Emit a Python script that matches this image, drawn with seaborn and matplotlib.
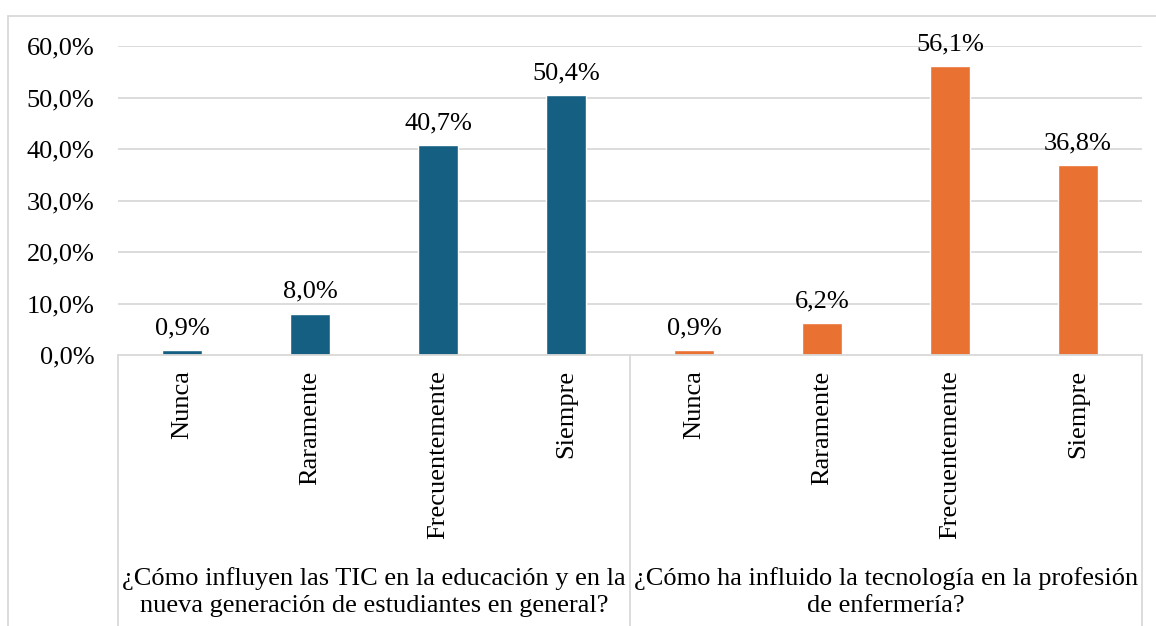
import matplotlib
matplotlib.use("Agg")
import matplotlib.pyplot as plt
import seaborn as sns
import pandas as pd
from matplotlib.lines import Line2D

categories = ["Nunca", "Raramente", "Frecuentemente", "Siempre"]
group_labels = ["¿Cómo influyen las TIC en la educación y en la\nnueva generación de estudiantes en general?",
                "¿Cómo ha influido la tecnología en la profesión\nde enfermería?"]
values_tic = [0.9, 8.0, 40.7, 50.4]
values_enf = [0.9, 6.2, 56.1, 36.8]
yticks = [0, 10, 20, 30, 40, 50, 60]
colors = ["#156082", "#E97132"]

sns.set_theme(style="white")
plt.rcParams["font.family"] = ["Liberation Serif", "DejaVu Serif"]
plt.rcParams["text.color"] = "black"
plt.rcParams["xtick.color"] = "black"
plt.rcParams["ytick.color"] = "black"

FS = 19

rows = []
for g, vals in enumerate([values_tic, values_enf]):
    for i, (c, v) in enumerate(zip(categories, vals)):
        rows.append({"pos": str(g * 4 + i), "cat": c, "grp": g, "val": v})
df = pd.DataFrame(rows)

W, H = 1156, 626
fig = plt.figure(figsize=(W / 100, H / 100), dpi=100)
x0, x1 = 118, 1142
ytop, ybot = 46, 355
ax = fig.add_axes([x0 / W, (H - ybot) / H, (x1 - x0) / W, (ybot - ytop) / H])

sns.barplot(data=df, x="pos", y="val", hue="grp", palette=colors, dodge=False,
            width=0.31, legend=False, ax=ax, saturation=1)

ax.set_ylim(0, 60)
ax.set_yticks(yticks)
ax.set_yticklabels([f"{t:.1f}%".replace(".", ",") for t in yticks], fontsize=FS)
ax.set_xticks(range(8))
ax.set_xticklabels(df["cat"].tolist(), rotation=90, fontsize=FS, va="top")
ax.tick_params(axis="x", length=0, pad=11)
ax.tick_params(axis="y", length=0, pad=17)
ax.set_xlabel("")
ax.set_ylabel("")
ax.set_xlim(-0.5, 7.5)
for t in yticks[1:]:
    ax.axhline(t, color="#D9D9D9", lw=1.3, zorder=0)
for s in ["top", "right", "left"]:
    ax.spines[s].set_visible(False)
ax.spines["bottom"].set_color("#D9D9D9")
ax.spines["bottom"].set_linewidth(1.3)

for container in ax.containers:
    ax.bar_label(container, labels=[f"{v:.1f}%".replace(".", ",") for v in container.datavalues],
                 fontsize=FS, padding=8)

def fy(y):
    return (H - y) / H
def fx(x):
    return x / W
for xv in [118, 630, 1142]:
    fig.add_artist(Line2D([fx(xv), fx(xv)], [fy(355), fy(626)], color="#D9D9D9", lw=1.3))
fig.add_artist(Line2D([fx(8), fx(1156)], [fy(16), fy(16)], color="#D9D9D9", lw=1.3))
fig.add_artist(Line2D([fx(8), fx(8)], [fy(16), fy(626)], color="#D9D9D9", lw=1.3))

for gx, lab in zip([374, 886], group_labels):
    fig.text(fx(gx), fy(592), lab, ha="center", va="center", fontsize=FS, linespacing=1.3)

fig.savefig("out.png", dpi=100, facecolor="white")
